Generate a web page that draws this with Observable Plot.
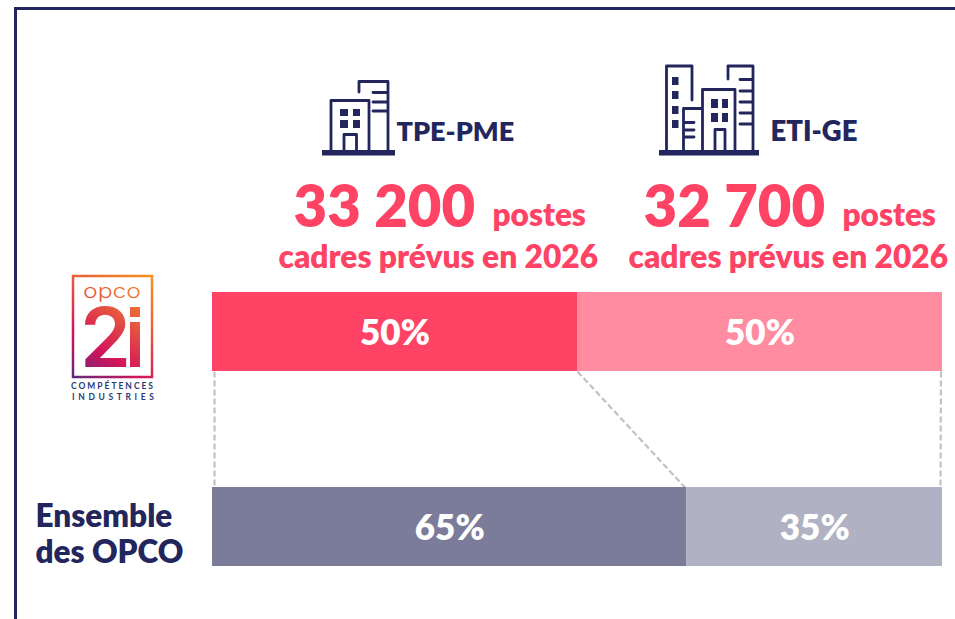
<!DOCTYPE html>
<html lang="fr">
<head>
<meta charset="utf-8">
<script src="https://cdn.jsdelivr.net/npm/d3@7"></script>
<script src="https://cdn.jsdelivr.net/npm/@observablehq/plot@0.6"></script>
<style>
html,body{margin:0;padding:0;background:#fff;overflow:hidden}
#stage{position:relative;width:955px;height:619px;overflow:hidden}
#stage svg{position:absolute;left:0;top:0}
</style>
</head>
<body>
<div id="stage"></div>
<script>
const rows = ["OPCO 2i", "Ensemble des OPCO"];
const sizes = ["TPE-PME", "ETI-GE"];
const opco2iShares = [50, 50];
const allOpcoShares = [65, 35];
const postes = ["33 200", "32 700"];
const palette = {
  "OPCO 2i": ["#ff4365", "#ff8ca0"],
  "Ensemble des OPCO": ["#7b7b9a", "#b1b1c4"]
};
const navy = "#22265c";
const red = "#ff4365";
const font = "Lato, 'Open Sans', sans-serif";

const segments = [
  ...opco2iShares.map((share, i) => ({row: rows[0], size: sizes[i], share, fill: palette[rows[0]][i]})),
  ...allOpcoShares.map((share, i) => ({row: rows[1], size: sizes[i], share, fill: palette[rows[1]][i]}))
];
const connectors = [
  {from: 0, to: 0},
  {from: opco2iShares[0], to: allOpcoShares[0]},
  {from: 100, to: 100}
];

function label(text, dx, dy, size, fill) {
  return Plot.text([text], {
    frameAnchor: "top-left", dx, dy, text: d => d, textAnchor: "start", lineAnchor: "bottom",
    fontFamily: font, fontWeight: 800, fontSize: size, fill
  });
}

const chart = Plot.plot({
  width: 955, height: 619,
  marginTop: 0, marginRight: 0, marginBottom: 0, marginLeft: 0,
  style: {background: "transparent", fontFamily: font},
  x: {axis: null, domain: [0, 100], range: [212, 942]},
  y: {axis: null, type: "band", domain: rows, range: [292, 566], paddingInner: 0.595, paddingOuter: 0, round: false},
  color: {type: "identity"},
  marks: [
    Plot.link(connectors, {
      x1: "from", x2: "to", y1: () => rows[0], y2: () => rows[1],
      stroke: "#c2c2c2", strokeWidth: 2.2, strokeDasharray: "6 3",
      render(index, scales, channels, dims, context, next) {
        const half = scales.scales.y.bandwidth / 2;
        const clamp = v => Math.min(940.5, Math.max(214, v));
        return next(index, scales, {
          ...channels,
          x1: Array.from(channels.x1, clamp),
          x2: Array.from(channels.x2, v => clamp(v - 2)),
          y1: Array.from(channels.y1, v => v + half),
          y2: Array.from(channels.y2, v => v - half)
        }, dims, context);
      }
    }),
    Plot.barX(segments, Plot.stackX({x: "share", y: "row", fill: "fill", order: null})),
    Plot.text(segments, Plot.stackX({
      x: "share", y: "row", order: null, text: d => d.share + "%", dy: 2,
      fill: "white", fontFamily: font, fontWeight: 800, fontSize: 35
    })),
    label(sizes[0], 396, 140, 27, navy),
    label(sizes[1], 770, 140, 27.5, navy),
    label(postes[0], 293, 226, 58, red),
    label("postes", 492, 225, 31.5, red),
    label("cadres prévus en 2026", 278, 267, 31.7, red),
    label(postes[1], 643, 226, 58, red),
    label("postes", 842, 225, 31.5, red),
    label("cadres prévus en 2026", 628, 267, 31.7, red),
    label("Ensemble", 35, 526, 31.5, navy),
    label("des OPCO", 35, 562, 31.5, navy)
  ]
});

const stage = document.getElementById("stage");
stage.appendChild(chart);

const art = `
<svg xmlns="http://www.w3.org/2000/svg" width="955" height="619" style="pointer-events:none">
  <defs>
    <linearGradient id="opco" gradientUnits="userSpaceOnUse" x1="150" y1="272" x2="74" y2="380">
      <stop offset="0" stop-color="#f7941d"/>
      <stop offset="0.35" stop-color="#e8603c"/>
      <stop offset="0.7" stop-color="#d4145a"/>
      <stop offset="1" stop-color="#5b2a7e"/>
    </linearGradient>
  </defs>
  <path d="M15.5 619V8.5H955" fill="none" stroke="${navy}" stroke-width="3"/>
  <g fill="none" stroke="${navy}" stroke-width="2.8" stroke-linejoin="round" stroke-linecap="round">
    <path d="M331 150V100.5H369V150M344 150V134.5H356.5V150M359 92V81.5H388V150M373 92.5H388M373 102H388M373 111H388"/>
    <path d="M666.5 150V66H692V100M683.5 150V108.5H702M702.5 150V89.5H735V150M715 150V129.5H725V150M728 79V66H753V150M740 79.5H753M740 91H753M740 102H753M740 113H753M740 124H753M684 122.5H694M684 130H694M684 137H694"/>
  </g>
  <g fill="${navy}">
    <rect x="322" y="150" width="73" height="5.5"/>
    <rect x="340" y="109" width="8" height="7"/><rect x="353" y="109" width="7" height="7"/>
    <rect x="340" y="120" width="8" height="8"/><rect x="353" y="120" width="7" height="8"/>
    <rect x="659" y="150" width="100" height="5.5"/>
    <rect x="672" y="77" width="6.5" height="8"/><rect x="672" y="91" width="6.5" height="8"/>
    <rect x="672" y="106" width="6.5" height="8"/><rect x="672" y="120" width="6.5" height="8"/>
    <rect x="711" y="99" width="7" height="9"/><rect x="722" y="99" width="6" height="9"/>
    <rect x="711" y="113" width="7" height="9"/><rect x="722" y="113" width="6" height="9"/>
  </g>
  <rect x="73" y="276" width="79" height="101" fill="none" stroke="url(#opco)" stroke-width="2.5"/>
  <text x="112" y="298" text-anchor="middle" font-family="Inter, sans-serif" font-weight="300" font-size="19" fill="url(#opco)" textLength="58" lengthAdjust="spacingAndGlyphs">opco</text>
  <text x="80" y="367" font-family="Inter, sans-serif" font-weight="600" font-size="82" fill="url(#opco)">2</text>
  <rect x="130" y="307" width="10" height="10" fill="url(#opco)"/>
  <rect x="130" y="322" width="10" height="45" fill="url(#opco)"/>
  <text x="71" y="389" font-family="Lato, sans-serif" font-weight="700" font-size="8.5" fill="#2b3a75" textLength="82">COMPÉTENCES</text>
  <text x="72" y="400" font-family="Lato, sans-serif" font-weight="700" font-size="8.5" fill="#2b3a75" textLength="82">INDUSTRIES</text>
</svg>`;
stage.insertAdjacentHTML("beforeend", art);
</script>
</body>
</html>
